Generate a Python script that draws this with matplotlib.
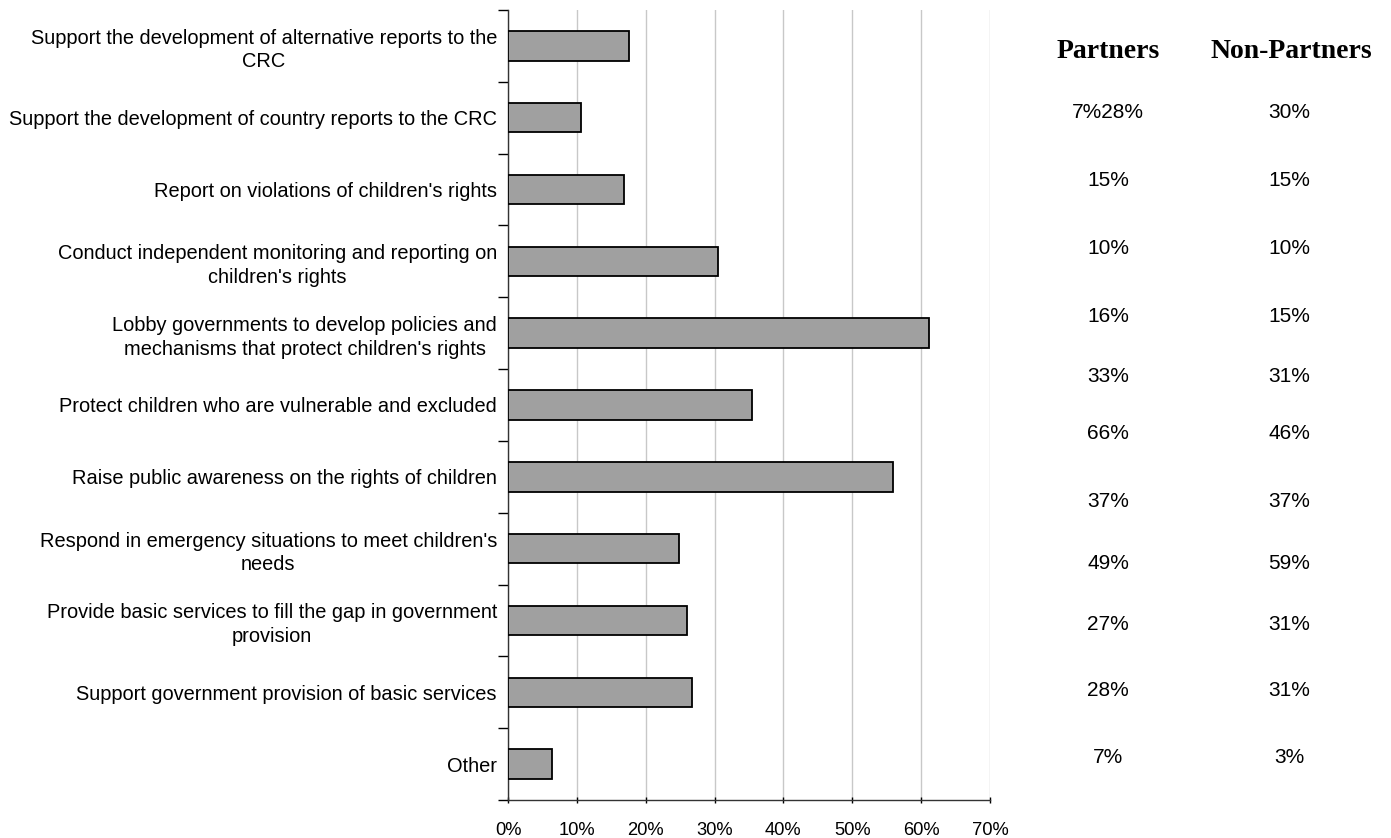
import matplotlib.pyplot as plt
import numpy as np
from matplotlib.ticker import FixedLocator, PercentFormatter

plt.rcParams['font.family'] = ['Liberation Sans', 'DejaVu Sans']

categorias = [
    "Support the development of alternative reports to the\nCRC",
    "Support the development of country reports to the CRC",
    "Report on violations of children's rights",
    "Conduct independent monitoring and reporting on\nchildren's rights",
    "Lobby governments to develop policies and\nmechanisms that protect children's rights",
    "Protect children who are vulnerable and excluded",
    "Raise public awareness on the rights of children",
    "Respond in emergency situations to meet children's\nneeds",
    "Provide basic services to fill the gap in government\nprovision",
    "Support government provision of basic services",
    "Other",
]
valores = [17.5, 10.6, 16.8, 30.5, 61.1, 35.4, 55.9, 24.8, 26.0, 26.7, 6.4]

# tabela lateral
parceiros = ["7%28%", "15%", "10%", "16%", "33%", "66%", "37%", "49%", "27%", "28%", "7%"]
nao_parceiros = ["30%", "15%", "10%", "15%", "31%", "46%", "37%", "59%", "31%", "31%", "3%"]
linhas_y = [113, 181, 248, 316, 377, 433, 501, 563, 624, 690, 757]

W, H = 1391, 838
fig = plt.figure(figsize=(W / 100, H / 100), dpi=100)
ax = fig.add_axes([508 / W, 1 - 800 / H, (990 - 508) / W, (800 - 10) / H])

n = len(categorias)
y = np.arange(n)
ax.barh(y, valores, height=0.41, color='#a0a0a0', edgecolor='black', linewidth=1.3, zorder=3)

ax.set_xlim(0, 70)
ax.set_ylim(n - 0.5, -0.5)
ax.set_xticks(np.arange(0, 71, 10))
ax.xaxis.set_major_formatter(PercentFormatter(decimals=0))
ax.grid(axis='x', color='#c8c8c8', linewidth=1, zorder=0)

ax.set_yticks(y)
ax.set_yticklabels(categorias, fontsize=14.4, linespacing=1.3)
for lbl in ax.get_yticklabels():
    lbl.set_multialignment('center')
ax.yaxis.set_minor_locator(FixedLocator(np.arange(-0.5, n, 1)))
ax.tick_params(axis='y', which='major', length=0, pad=8)
ax.tick_params(axis='y', which='minor', length=7, width=1, direction='out')
ax.tick_params(axis='x', length=5, width=1, direction='inout', labelsize=13.2, pad=13)

for s in ['top', 'right']:
    ax.spines[s].set_visible(False)
for s in ['left', 'bottom']:
    ax.spines[s].set_linewidth(1)
    ax.spines[s].set_color('#333333')

cab = dict(fontsize=20, fontweight='bold', family=['Liberation Serif', 'DejaVu Serif'],
           ha='center', va='center')
fig.text(1108 / W, 1 - 52 / H, "Partners", **cab)
fig.text(1291 / W, 1 - 52 / H, "Non-Partners", **cab)
for p, q, yy in zip(parceiros, nao_parceiros, linhas_y):
    fig.text(1108 / W, 1 - yy / H, p, fontsize=15, ha='center', va='center')
    fig.text(1289 / W, 1 - yy / H, q, fontsize=15, ha='center', va='center')

fig.savefig('out.png', dpi=100)
